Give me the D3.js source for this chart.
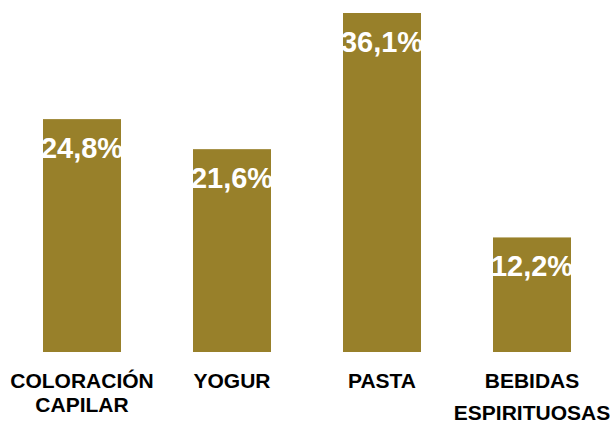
<!DOCTYPE html>
<html>
<head>
<meta charset="utf-8">
<script src="https://cdn.jsdelivr.net/npm/d3@7"></script>
<style>
  html, body { margin: 0; padding: 0; background: #fff; }
  svg { display: block; font-family: "Liberation Sans", Arial, sans-serif; }
</style>
</head>
<body>
<svg id="chart" width="610" height="425"></svg>
<script>
// Market share by category (%)
const categories = [["COLORACIÓN", "CAPILAR"], ["YOGUR"], ["PASTA"], ["BEBIDAS", "ESPIRITUOSAS"]];
const values = [24.8, 21.6, 36.1, 12.2];
const valueLabels = ["24,8%", "21,6%", "36,1%", "12,2%"];

const svg = d3.select("#chart");
const barColor = "#98802a";
const baseY = 352;

const x = d3.scaleBand()
  .domain(d3.range(values.length))
  .range([7, 607])
  .paddingInner(0.48)
  .paddingOuter(0.24);

const y = d3.scaleLinear()
  .domain([0, d3.max(values)])
  .range([baseY, 13]);

// Bars
svg.selectAll("rect.bar")
  .data(values)
  .join("rect")
  .attr("class", "bar")
  .attr("x", (d, i) => x(i))
  .attr("y", d => y(d))
  .attr("width", x.bandwidth())
  .attr("height", d => baseY - y(d))
  .attr("fill", barColor);

// Value labels inside the top of each bar
svg.selectAll("text.value")
  .data(values)
  .join("text")
  .attr("class", "value")
  .attr("x", (d, i) => x(i) + x.bandwidth() / 2)
  .attr("y", d => y(d) + 39)
  .attr("text-anchor", "middle")
  .attr("fill", "#fff")
  .attr("font-weight", "bold")
  .attr("font-size", 29)
  .text((d, i) => valueLabels[i]);

// Category labels under the bars
const lineGaps = [24, 0, 0, 32];
const cat = svg.selectAll("text.cat")
  .data(categories)
  .join("text")
  .attr("class", "cat")
  .attr("text-anchor", "middle")
  .attr("font-weight", "bold")
  .attr("font-size", 21)
  .attr("fill", "#000");

cat.each(function (lines, i) {
  const cx = x(i) + x.bandwidth() / 2;
  d3.select(this).selectAll("tspan")
    .data(lines)
    .join("tspan")
    .attr("x", cx)
    .attr("y", (l, j) => 388 + j * lineGaps[i])
    .text(l => l);
});
</script>
</body>
</html>
